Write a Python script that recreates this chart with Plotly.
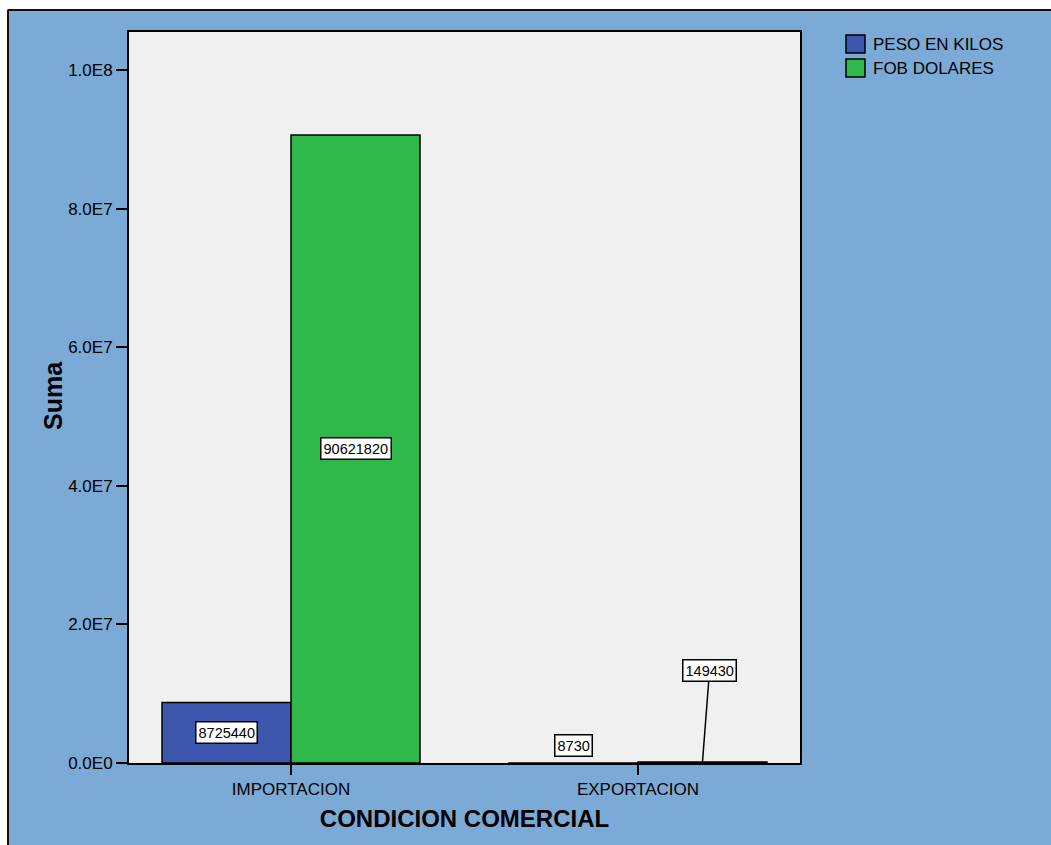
import plotly.graph_objects as go

categories = ["IMPORTACION", "EXPORTACION"]
series_names = ["PESO EN KILOS", "FOB DOLARES"]
peso_kilos = [8725440, 8730]
fob_dolares = [90621820, 149430]
series_values = [peso_kilos, fob_dolares]
series_colors = ["#3C57AC", "#2EB84A"]
y_tickvals = [0, 2e7, 4e7, 6e7, 8e7, 1e8]
y_ticktext = ["0.0E0", "2.0E7", "4.0E7", "6.0E7", "8.0E7", "1.0E8"]

W, H = 1051, 845
L, R, T, B = 129, 800, 32, 763
FONT = "Liberation Sans, Arial, sans-serif"
BG_BLUE = "#7BAAD6"

bargap = 0.2565
xr = [-0.4669, 1.4669]
yr = [0, 1.0548e8]

def px(xp):
    return (xp - L) / (R - L)

def py(yp):
    return (B - yp) / (B - T)

fig = go.Figure()
xs = list(range(len(categories)))
for name, vals, col in zip(series_names, series_values, series_colors):
    fig.add_trace(go.Bar(
        x=xs, y=vals, name=name,
        marker=dict(color=col, line=dict(color="black", width=1.5)),
        showlegend=False,
    ))

nser = len(series_values)
bw = (1 - bargap) / nser
annotations = []
for si, vals in enumerate(series_values):
    off = -(1 - bargap) / 2 + bw * (si + 0.5)
    for ci, v in enumerate(vals):
        xc = ci + off
        common = dict(
            text=str(v), xref="x", yref="y", x=xc,
            font=dict(family=FONT, size=14.5, color="black"),
            bgcolor="white", bordercolor="black", borderwidth=1.5, borderpad=2,
        )
        if v > 0.05 * yr[1]:
            annotations.append(dict(common, y=v / 2, showarrow=False))
        elif si == 0:
            annotations.append(dict(common, y=v, yanchor="bottom", yshift=6, showarrow=False))
        else:
            annotations.append(dict(common, y=v, showarrow=True, arrowhead=0,
                                    arrowwidth=1.5, arrowcolor="black", ax=7, ay=-91))

# manual legend
shapes = []
for i, (name, col) in enumerate(zip(series_names, series_colors)):
    y0 = 35 + 24 * i
    shapes.append(dict(type="rect", xref="paper", yref="paper",
                       x0=px(846), x1=px(865), y0=py(y0 + 18), y1=py(y0),
                       fillcolor=col, line=dict(color="black", width=1.5)))
    annotations.append(dict(text=name, xref="paper", yref="paper",
                            x=px(871), y=py(y0 + 9), xanchor="left", yanchor="middle",
                            showarrow=False, font=dict(family=FONT, size=17, color="black")))

# y axis title
annotations.append(dict(text="<b>Suma</b>", xref="paper", yref="paper",
                        x=px(53), y=py(396), xanchor="center", yanchor="middle",
                        textangle=-90, showarrow=False,
                        font=dict(family=FONT, size=25, color="black")))

# white page margin and outer frame
shapes.append(dict(type="rect", xref="paper", yref="paper", layer="above",
                   x0=px(-5), x1=px(1060), y0=py(9), y1=py(-5),
                   fillcolor="white", line=dict(width=0)))
shapes.append(dict(type="rect", xref="paper", yref="paper", layer="above",
                   x0=px(-5), x1=px(7), y0=py(860), y1=py(-5),
                   fillcolor="white", line=dict(width=0)))
shapes.append(dict(type="line", xref="paper", yref="paper",
                   x0=px(8), x1=px(1060), y0=py(10), y1=py(10),
                   line=dict(color="#111111", width=2)))
shapes.append(dict(type="line", xref="paper", yref="paper",
                   x0=px(8), x1=px(8), y0=py(10), y1=py(860),
                   line=dict(color="#111111", width=2)))

fig.update_layout(
    width=W, height=H,
    margin=dict(l=L, r=W - R, t=T, b=H - B, pad=0),
    paper_bgcolor=BG_BLUE, plot_bgcolor="#F0F0F0",
    barmode="group", bargap=bargap, bargroupgap=0,
    font=dict(family=FONT, color="black"),
    shapes=shapes, annotations=annotations,
    showlegend=False,
)
fig.update_xaxes(
    range=xr, tickvals=xs, ticktext=categories,
    tickfont=dict(size=17, family=FONT), ticks="outside", ticklen=10, tickwidth=2,
    tickcolor="black", showline=True, linecolor="black", linewidth=2, mirror=True,
    showgrid=False, zeroline=False,
    title=dict(text="<b>CONDICION COMERCIAL</b>", font=dict(size=24, family=FONT), standoff=12),
)
fig.update_yaxes(
    range=yr, tickvals=y_tickvals, ticktext=y_ticktext,
    tickfont=dict(size=17, family=FONT), ticks="outside", ticklen=11, tickwidth=2,
    tickcolor="black", showline=True, linecolor="black", linewidth=2, mirror=True,
    showgrid=False, zeroline=False,
)

fig.write_html("out.html")
